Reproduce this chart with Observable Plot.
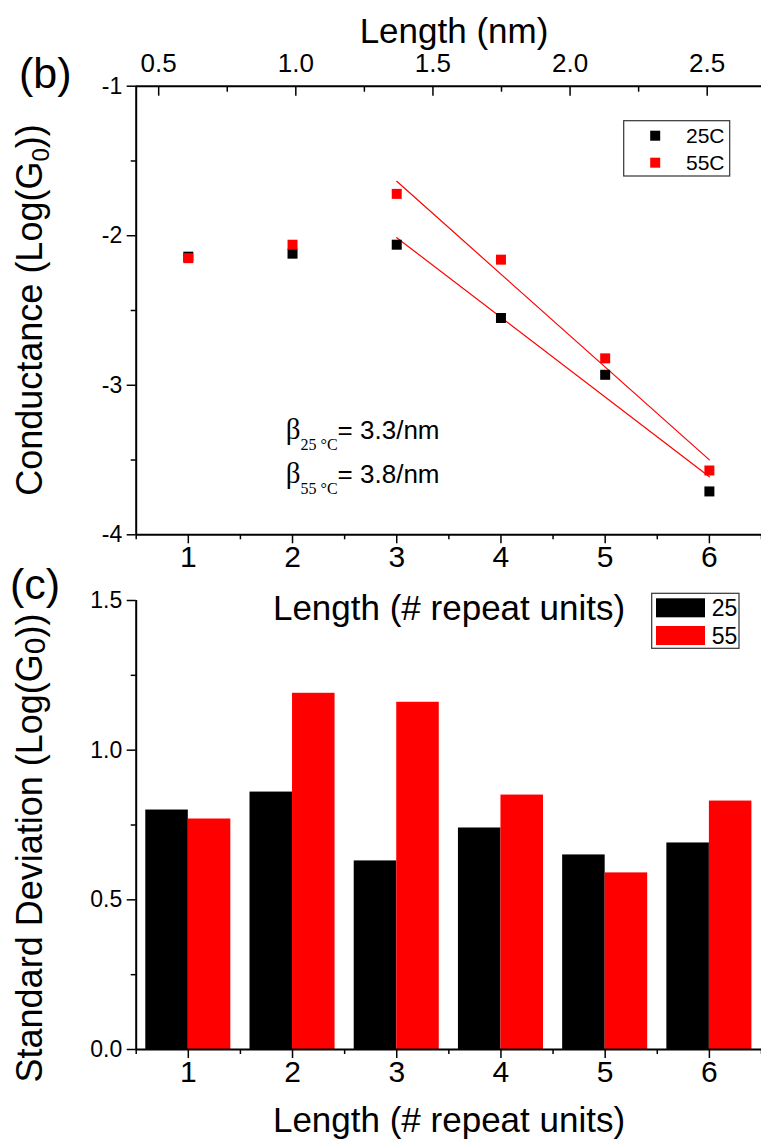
<!DOCTYPE html>
<html><head><meta charset="utf-8">
<script src="https://cdn.jsdelivr.net/npm/d3@7"></script>
<script src="https://cdn.jsdelivr.net/npm/@observablehq/plot@0.6"></script>
<style>
html,body{margin:0;padding:0;background:#fff;}
#wrap{position:relative;width:761px;height:1143px;overflow:hidden;background:#fff;}
#wrap svg{position:absolute;left:0;}
</style></head><body><div id="wrap"></div>
<script>
// ---------- data ----------
const units = [1, 2, 3, 4, 5, 6];                 // length (# repeat units)
const temps = ["25C", "55C"];
const cond25 = [-2.14, -2.12, -2.06, -2.55, -2.93, -3.71];   // Log(G0) at 25C
const cond55 = [-2.15, -2.06, -1.72, -2.16, -2.82, -3.57];   // Log(G0) at 55C
const fitFrom = 3;                                 // linear fits use units >= 3
const condTicks = [-1, -2, -3, -4];
const condMinor = [-1.5, -2.5, -3.5];
const nmTicks = [0.5, 1.0, 1.5, 2.0, 2.5];
const nmMinor = [0.75, 1.25, 1.75, 2.25];
const unitMinor = [0.5, 1.5, 2.5, 3.5, 4.5, 5.5, 6.5];
const nmAtUnit1 = 0.608, nmPerUnit = 0.380;        // length conversion for top axis
const sdSeries = ["25", "55"];
const sd25 = [0.80, 0.86, 0.63, 0.74, 0.65, 0.69];
const sd55 = [0.77, 1.19, 1.16, 0.85, 0.59, 0.83];
const sdTicks = [0, 0.5, 1.0, 1.5];
const sdMinor = [0.25, 0.75, 1.25];
const betaTemps = ["25 °C", "55 °C"];
const betaValues = ["3.3/nm", "3.8/nm"];

// ---------- layout ----------
const W = 761, ML = 135.7;
const xDomain = [0.5, 6.5];
const HB = 640, TOPB = 85.7, BOTB = 534.3;
const CTOP = 560, HC = 583, TOPC = 600, BOTC = 1049;
const annot = {x: 1.94, y: [-3.36, -3.66]};
const RED = "#ff0000", BLACK = "#000000";
const fontNarrow = '"Liberation Sans Narrow", "Liberation Sans", Arial, sans-serif';
const fontSans = '"Liberation Sans", Arial, sans-serif';
const fontSerif = '"Liberation Serif", "Times New Roman", serif';

const nmToX = nm => 1 + (nm - nmAtUnit1) / nmPerUnit;
const xToNm = x => nmAtUnit1 + (x - 1) * nmPerUnit;

const rows25 = units.map((n, i) => ({n, v: cond25[i]}));
const rows55 = units.map((n, i) => ({n, v: cond55[i]}));
const barW = 0.408;
const sdRows25 = units.map((n, i) => ({n, v: sd25[i]}));
const sdRows55 = units.map((n, i) => ({n, v: sd55[i]}));

const axisCommon = {strokeWidth: 1.5, label: null, fontFamily: fontNarrow};

const plotB = Plot.plot({
  width: W, height: HB,
  marginLeft: ML, marginRight: 0, marginTop: TOPB, marginBottom: HB - BOTB,
  x: {domain: xDomain},
  y: {domain: [-4, -1]},
  style: {background: "transparent", overflow: "visible", fontFamily: fontNarrow, color: "#000"},
  marks: [
    Plot.axisX({...axisCommon, anchor: "bottom", ticks: units, tickSize: 9, tickPadding: 2, fontSize: 30, tickFormat: d => String(d)}),
    Plot.axisX({...axisCommon, anchor: "bottom", ticks: unitMinor, tickSize: 5, tickFormat: () => ""}),
    Plot.axisX({...axisCommon, anchor: "top", ticks: nmTicks.map(nmToX), tickSize: -9, tickPadding: 23, fontSize: 26, tickFormat: x => xToNm(x).toFixed(1)}),
    Plot.axisX({...axisCommon, anchor: "top", ticks: nmMinor.map(nmToX), tickSize: -5, tickFormat: () => ""}),
    Plot.axisY({...axisCommon, anchor: "left", ticks: condTicks, tickSize: 9, tickPadding: 5, fontSize: 23, tickFormat: d => String(d)}),
    Plot.axisY({...axisCommon, anchor: "left", ticks: condMinor, tickSize: 5, tickFormat: () => ""}),
    Plot.ruleY([-4], {strokeWidth: 2}),
    Plot.ruleY([-1], {strokeWidth: 2}),
    Plot.ruleX([0.5], {strokeWidth: 2}),
    Plot.linearRegressionY(rows25.filter(d => d.n >= fitFrom), {x: "n", y: "v", stroke: RED, strokeWidth: 1.2, ci: 0}),
    Plot.linearRegressionY(rows55.filter(d => d.n >= fitFrom), {x: "n", y: "v", stroke: RED, strokeWidth: 1.2, ci: 0}),
    Plot.dot(rows25, {x: "n", y: "v", symbol: "square", r: 5.64, fill: BLACK, stroke: null}),
    Plot.dot(rows55, {x: "n", y: "v", symbol: "square", r: 5.64, fill: RED, stroke: null})
  ]
});
plotB.style.top = "0px";

const plotC = Plot.plot({
  width: W, height: HC,
  marginLeft: ML, marginRight: 0, marginTop: TOPC - CTOP, marginBottom: HC - (BOTC - CTOP),
  x: {domain: xDomain},
  y: {domain: [0, 1.5]},
  style: {background: "transparent", overflow: "visible", fontFamily: fontNarrow, color: "#000"},
  marks: [
    Plot.rect(sdRows25, {x1: d => d.n - barW, x2: d => d.n, y1: () => 0, y2: "v", fill: BLACK}),
    Plot.rect(sdRows55, {x1: d => d.n, x2: d => d.n + barW, y1: () => 0, y2: "v", fill: RED}),
    Plot.axisX({...axisCommon, anchor: "bottom", ticks: units, tickSize: 9, tickPadding: 2, fontSize: 30, tickFormat: d => String(d)}),
    Plot.axisX({...axisCommon, anchor: "bottom", ticks: unitMinor, tickSize: 5, tickFormat: () => ""}),
    Plot.axisY({...axisCommon, anchor: "left", ticks: sdTicks, tickSize: 9, tickPadding: 5, fontSize: 23, tickFormat: d => d.toFixed(1)}),
    Plot.axisY({...axisCommon, anchor: "left", ticks: sdMinor, tickSize: 5, tickFormat: () => ""}),
    Plot.ruleY([0], {strokeWidth: 2}),
    Plot.ruleX([0.5], {strokeWidth: 2})
  ]
});
plotC.style.top = CTOP + "px";

const wrap = document.getElementById("wrap");
wrap.appendChild(plotB);
wrap.appendChild(plotC);

// ---------- overlay: titles, panel labels, legends, annotation ----------
const ov = d3.select(wrap).append("svg")
  .attr("width", W).attr("height", 1143)
  .style("top", "0px").style("overflow", "visible")
  .attr("font-family", fontSans).attr("fill", "#000");

function txt(x, y, s, size, anchor = "start", rotate = 0) {
  const t = ov.append("text").attr("font-size", size).attr("text-anchor", anchor)
    .attr("transform", `translate(${x},${y})` + (rotate ? ` rotate(${rotate})` : ""));
  if (s !== null) t.text(s);
  return t;
}

txt(19, 88, "(b)", 43);
txt(10, 599, "(c)", 43);
txt(454, 43, "Length (nm)", 35, "middle");
txt(449, 620, "Length (# repeat units)", 35, "middle");
txt(449, 1132, "Length (# repeat units)", 35, "middle");

const yb = txt(42, (TOPB + BOTB) / 2, null, 36, "middle", -90);
yb.append("tspan").text("Conductance (Log(G");
yb.append("tspan").attr("font-size", 24).attr("dy", 7).text("0");
yb.append("tspan").attr("dy", -7).text("))");

const yc = txt(42, 848, null, 36, "middle", -90);
yc.append("tspan").text("Standard Deviation (Log(G");
yc.append("tspan").attr("font-size", 30).attr("dy", 3).text("0");
yc.append("tspan").attr("dy", -3).text("))");

// legend (b)
ov.append("rect").attr("x", 623.7).attr("y", 120.7).attr("width", 106).attr("height", 55.3)
  .attr("fill", "none").attr("stroke", "#333").attr("stroke-width", 1.2);
[[BLACK, temps[0], 135.7], [RED, temps[1], 162.7]].forEach(([c, lab, cy]) => {
  ov.append("rect").attr("x", 650.2).attr("y", cy - 5).attr("width", 10).attr("height", 10).attr("fill", c);
  txt(686, cy + 7.5, lab, 21);
});

// legend (c)
ov.append("rect").attr("x", 651.7).attr("y", 593.3).attr("width", 87.3).attr("height", 55)
  .attr("fill", "none").attr("stroke", "#333").attr("stroke-width", 1.2);
[[BLACK, sdSeries[0], 598.3], [RED, sdSeries[1], 626]].forEach(([c, lab, y0]) => {
  ov.append("rect").attr("x", 656).attr("y", y0).attr("width", 49).attr("height", 19).attr("fill", c);
  txt(711.7, y0 + 18, lab, 23);
});

// beta annotation, positioned through plot (b) scales
const sx = plotB.scale("x"), sy = plotB.scale("y");
betaTemps.forEach((tmp, i) => {
  const t = txt(sx.apply(annot.x), sy.apply(annot.y[i]), null, 26);
  t.append("tspan").attr("font-family", fontSerif).attr("font-size", 29).text("β");
  t.append("tspan").attr("font-family", fontSerif).attr("font-size", 16).attr("dy", 11).text(tmp);
  t.append("tspan").attr("dy", -11).text("= " + betaValues[i]);
});
</script></body></html>
